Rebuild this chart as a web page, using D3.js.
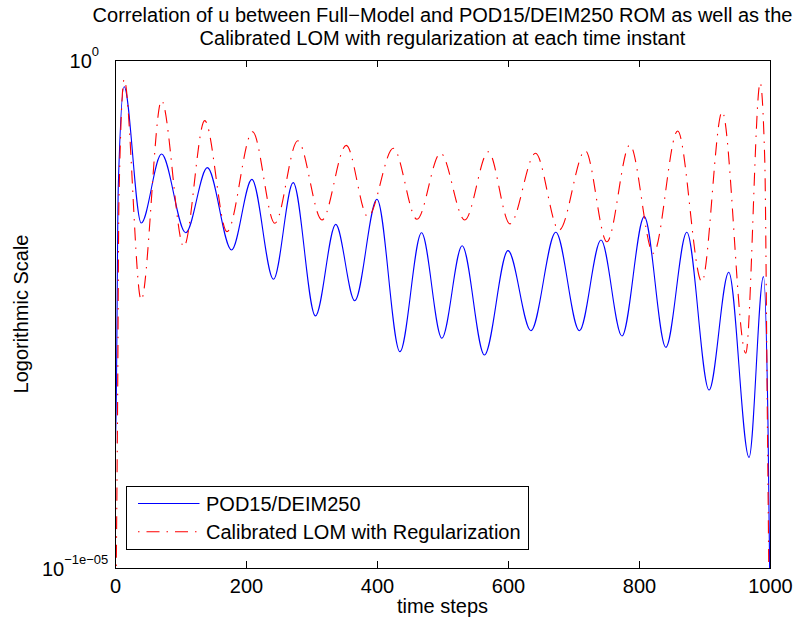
<!DOCTYPE html>
<html>
<head>
<meta charset="utf-8">
<script src="https://cdn.jsdelivr.net/npm/d3@7"></script>
<style>
body{margin:0;background:#fff;}
svg text{font-family:"Liberation Sans",Arial,Helvetica,sans-serif;fill:#000;}
</style>
</head>
<body>
<svg id="chart" width="796" height="624"></svg>
<script>
// values (time step, correlation)
var podSteps=[0,1,5,14,40,71,108,141,178,209,242,272,306,337,366,400,435,468,499,530,564,600,635,673,709,742,774,808,841,873,907,937,968,990,997,1000];
var podCorr=[1.0,0.99998264,0.99999424,0.99999879,0.99999261,0.99999574,0.99999217,0.99999512,0.99999139,0.99999459,
	0.99999006,0.99999444,0.99998840,0.99999255,0.99998909,0.99999369,0.99998678,0.99999217,0.99998739,0.99999158,
	0.99998663,0.99999136,0.99998773,0.99999219,0.99998773,0.99999184,0.99998749,0.99999290,0.99998698,0.99999219,
	0.99998504,0.99999038,0.99998199,0.99999018,0.99998337,0.99997552];
var lomSteps=[0,4,6,14,40,71,105,137,171,210,244,279,316,353,386,425,461,497,534,570,603,642,678,718,751,786,822,859,896,927,963,985,992,996,1000];
var lomCorr=[0.99997099,0.99998459,0.99999365,0.99999912,0.99998912,0.99999816,0.99999154,0.99999725,0.99999222,0.99999675,
	0.99999260,0.99999634,0.99999275,0.99999613,0.99999290,0.99999600,0.99999278,0.99999578,0.99999275,0.99999584,
	0.99999257,0.99999577,0.99999229,0.99999589,0.99999176,0.99999615,0.99999124,0.99999678,0.99998995,0.99999766,
	0.99998671,0.99999897,0.99999547,0.99998368,0.99997099];
var xTicks=[0,200,400,600,800,1000];
var yTicks=[Math.pow(10,-1e-5),1];
var yTickExp=["\u22121e\u221205","0"];
var titleLines=["Correlation of u between Full\u2212Model and POD15/DEIM250 ROM as well as the",
	"Calibrated LOM with regularization at each time instant"];
var legendLabels=["POD15/DEIM250","Calibrated LOM with Regularization"];

var svg=d3.select("#chart");
var plot={left:115,right:770,top:60,bottom:568};
var midX=(plot.left+plot.right)/2;

var x=d3.scaleLinear().domain([0,1000]).range([plot.left,plot.right]);
var y=d3.scaleLog().domain([yTicks[0],1]).range([plot.bottom,plot.top]);

svg.append("rect").attr("width",796).attr("height",624).attr("fill","#fff");

//clip the lines to the axes box like matlab does
svg.append("clipPath").attr("id","plotClip")
	.append("rect")
	.attr("x",plot.left).attr("y",plot.top)
	.attr("width",plot.right-plot.left).attr("height",plot.bottom-plot.top);

var line=d3.line()
	.x(function(d){return x(d[0]);})
	.y(function(d){return y(d[1]);})
	.curve(d3.curveMonotoneX);

var podData=podSteps.map(function(s,i){return [s,podCorr[i]];});
var lomData=lomSteps.map(function(s,i){return [s,lomCorr[i]];});

var lines=svg.append("g").attr("clip-path","url(#plotClip)");
lines.append("path")
	.attr("d",line(podData))
	.attr("fill","none")
	.attr("stroke","#0000ff")
	.attr("stroke-width",1.1);
lines.append("path")
	.attr("d",line(lomData))
	.attr("fill","none")
	.attr("stroke","#ff0000")
	.attr("stroke-width",1.1)
	.attr("stroke-dasharray","13,7,1.5,7");

//axes, ticks pointing inward
var xBottom=d3.axisBottom(x).tickValues(xTicks).tickSizeInner(-7).tickSizeOuter(0).tickPadding(11).tickFormat(d3.format("d"));
var xTop=d3.axisTop(x).tickValues(xTicks).tickSizeInner(-7).tickSizeOuter(0).tickFormat("");
var yLeft=d3.axisLeft(y).tickValues(yTicks).tickSizeInner(-7).tickSizeOuter(0).tickFormat("");
var yRight=d3.axisRight(y).tickValues(yTicks).tickSizeInner(-7).tickSizeOuter(0).tickFormat("");

function styleAxis(g){
	g.selectAll("path,line").attr("stroke","#000").attr("stroke-width",1).attr("shape-rendering","crispEdges");
	g.selectAll("text").attr("font-size",20).attr("fill","#000")
		.attr("font-family","'Liberation Sans',Arial,sans-serif");
}

svg.append("g").attr("transform","translate(0,"+plot.bottom+")").call(xBottom).call(styleAxis);
svg.append("g").attr("transform","translate(0,"+plot.top+")").call(xTop).call(styleAxis);
var yAxisG=svg.append("g").attr("transform","translate("+plot.left+",0)").call(yLeft).call(styleAxis);
svg.append("g").attr("transform","translate("+plot.right+",0)").call(yRight).call(styleAxis);

//y labels as 10^exponent
yAxisG.selectAll(".tick").each(function(d,i){
	var t=d3.select(this).append("text")
		.attr("x",d===1?-16:-6.7)
		.attr("y",7.5)
		.attr("text-anchor","end")
		.attr("font-size",20);
	t.append("tspan").text("10");
	t.append("tspan").attr("font-size",13).attr("dy",-12).text(yTickExp[i]);
});

//title
svg.append("g").selectAll("text")
	.data(titleLines)
	.enter().append("text")
	.attr("x",midX)
	.attr("y",function(d,i){return 22+i*23;})
	.attr("text-anchor","middle")
	.attr("font-size",20)
	.text(function(d){return d;});

//axis labels
svg.append("text")
	.attr("x",midX).attr("y",613)
	.attr("text-anchor","middle")
	.attr("font-size",20)
	.text("time steps");
svg.append("text")
	.attr("transform","translate(27.5,"+((plot.top+plot.bottom)/2)+") rotate(-90)")
	.attr("text-anchor","middle")
	.attr("font-size",20)
	.text("Logorithmic Scale");

//legend
var legend=svg.append("g").attr("transform","translate(126,486)");
legend.append("rect")
	.attr("width",402).attr("height",63)
	.attr("fill","#fff").attr("stroke","#000").attr("stroke-width",1)
	.attr("shape-rendering","crispEdges");
var legendColors=["#0000ff","#ff0000"];
var legendDash=[null,"13,7,1.5,7"];
legendLabels.forEach(function(lbl,i){
	var ly=17.5+i*28.3;
	legend.append("line")
		.attr("x1",12).attr("x2",73.5)
		.attr("y1",ly).attr("y2",ly)
		.attr("stroke",legendColors[i])
		.attr("stroke-width",1.1)
		.attr("stroke-dasharray",legendDash[i])
		.attr("stroke-dashoffset",legendDash[i]?20:null);
	legend.append("text")
		.attr("x",80).attr("y",ly+7.3)
		.attr("font-size",20)
		.text(lbl);
});
</script>
</body>
</html>
